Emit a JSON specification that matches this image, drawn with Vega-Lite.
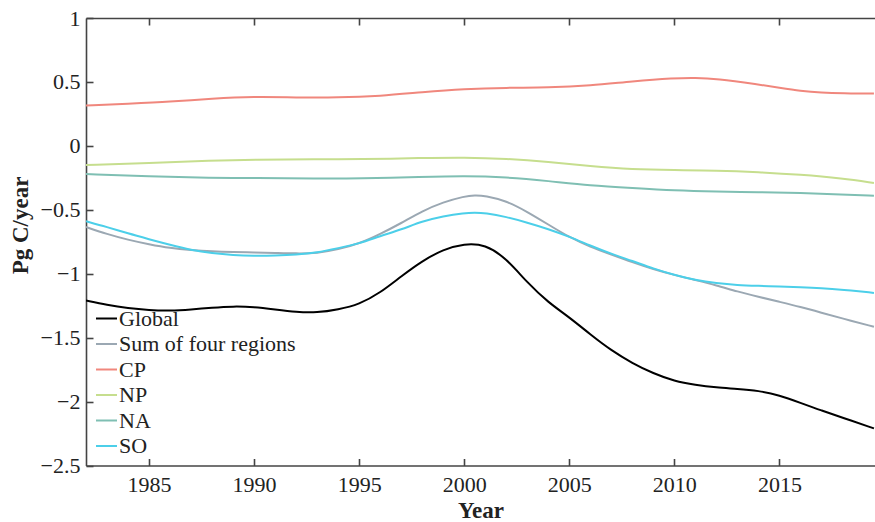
{
  "$schema": "https://vega.github.io/schema/vega-lite/v6.json",
  "width": 789,
  "height": 447.5,
  "autosize": "none",
  "padding": {"left": 86, "top": 18, "right": 0, "bottom": 56.5},
  "background": "white",
  "config": {
    "view": {"stroke": null},
    "font": "Times New Roman, Liberation Serif, serif",
    "axis": {
      "labelFont": "Times New Roman, Liberation Serif, serif",
      "titleFont": "Times New Roman, Liberation Serif, serif",
      "labelFontSize": 22,
      "titleFontSize": 23,
      "titleFontWeight": "bold",
      "labelColor": "#222222",
      "titleColor": "#222222",
      "domainColor": "#444444",
      "domainWidth": 1.6,
      "tickColor": "#444444",
      "tickWidth": 1.6,
      "grid": false
    },
    "legend": {
      "labelFont": "Times New Roman, Liberation Serif, serif",
      "labelFontSize": 22,
      "labelColor": "#222222",
      "labelLimit": 0
    }
  },
  "datasets": {
    "flux": [
      {"series": "Global", "year": 1982, "value": -1.21},
      {"series": "Global", "year": 1983, "value": -1.245},
      {"series": "Global", "year": 1984, "value": -1.27},
      {"series": "Global", "year": 1985, "value": -1.285},
      {"series": "Global", "year": 1986, "value": -1.29},
      {"series": "Global", "year": 1987, "value": -1.28},
      {"series": "Global", "year": 1988, "value": -1.265},
      {"series": "Global", "year": 1989, "value": -1.255},
      {"series": "Global", "year": 1990, "value": -1.26},
      {"series": "Global", "year": 1991, "value": -1.28},
      {"series": "Global", "year": 1992, "value": -1.3},
      {"series": "Global", "year": 1993, "value": -1.305},
      {"series": "Global", "year": 1994, "value": -1.28},
      {"series": "Global", "year": 1995, "value": -1.24},
      {"series": "Global", "year": 1996, "value": -1.15},
      {"series": "Global", "year": 1997, "value": -1.02},
      {"series": "Global", "year": 1998, "value": -0.9},
      {"series": "Global", "year": 1999, "value": -0.81},
      {"series": "Global", "year": 2000, "value": -0.765},
      {"series": "Global", "year": 2001, "value": -0.77},
      {"series": "Global", "year": 2002, "value": -0.88},
      {"series": "Global", "year": 2003, "value": -1.07},
      {"series": "Global", "year": 2004, "value": -1.225},
      {"series": "Global", "year": 2005, "value": -1.34},
      {"series": "Global", "year": 2006, "value": -1.475},
      {"series": "Global", "year": 2007, "value": -1.6},
      {"series": "Global", "year": 2008, "value": -1.7},
      {"series": "Global", "year": 2009, "value": -1.78},
      {"series": "Global", "year": 2010, "value": -1.84},
      {"series": "Global", "year": 2011, "value": -1.87},
      {"series": "Global", "year": 2012, "value": -1.89},
      {"series": "Global", "year": 2013, "value": -1.9},
      {"series": "Global", "year": 2014, "value": -1.915},
      {"series": "Global", "year": 2015, "value": -1.95},
      {"series": "Global", "year": 2016, "value": -2.01},
      {"series": "Global", "year": 2017, "value": -2.07},
      {"series": "Global", "year": 2018, "value": -2.125},
      {"series": "Global", "year": 2019.5, "value": -2.21},

      {"series": "Sum of four regions", "year": 1982, "value": -0.635},
      {"series": "Sum of four regions", "year": 1983, "value": -0.69},
      {"series": "Sum of four regions", "year": 1984, "value": -0.735},
      {"series": "Sum of four regions", "year": 1985, "value": -0.77},
      {"series": "Sum of four regions", "year": 1986, "value": -0.8},
      {"series": "Sum of four regions", "year": 1987, "value": -0.815},
      {"series": "Sum of four regions", "year": 1988, "value": -0.825},
      {"series": "Sum of four regions", "year": 1989, "value": -0.83},
      {"series": "Sum of four regions", "year": 1990, "value": -0.833},
      {"series": "Sum of four regions", "year": 1991, "value": -0.837},
      {"series": "Sum of four regions", "year": 1992, "value": -0.842},
      {"series": "Sum of four regions", "year": 1993, "value": -0.84},
      {"series": "Sum of four regions", "year": 1994, "value": -0.81},
      {"series": "Sum of four regions", "year": 1995, "value": -0.765},
      {"series": "Sum of four regions", "year": 1996, "value": -0.69},
      {"series": "Sum of four regions", "year": 1997, "value": -0.605},
      {"series": "Sum of four regions", "year": 1998, "value": -0.51},
      {"series": "Sum of four regions", "year": 1999, "value": -0.44},
      {"series": "Sum of four regions", "year": 2000, "value": -0.395},
      {"series": "Sum of four regions", "year": 2000.5, "value": -0.385},
      {"series": "Sum of four regions", "year": 2001, "value": -0.39},
      {"series": "Sum of four regions", "year": 2002, "value": -0.43},
      {"series": "Sum of four regions", "year": 2003, "value": -0.515},
      {"series": "Sum of four regions", "year": 2004, "value": -0.615},
      {"series": "Sum of four regions", "year": 2005, "value": -0.715},
      {"series": "Sum of four regions", "year": 2006, "value": -0.79},
      {"series": "Sum of four regions", "year": 2007, "value": -0.85},
      {"series": "Sum of four regions", "year": 2008, "value": -0.91},
      {"series": "Sum of four regions", "year": 2009, "value": -0.965},
      {"series": "Sum of four regions", "year": 2010, "value": -1.01},
      {"series": "Sum of four regions", "year": 2011, "value": -1.05},
      {"series": "Sum of four regions", "year": 2012, "value": -1.09},
      {"series": "Sum of four regions", "year": 2013, "value": -1.14},
      {"series": "Sum of four regions", "year": 2014, "value": -1.18},
      {"series": "Sum of four regions", "year": 2015, "value": -1.22},
      {"series": "Sum of four regions", "year": 2016, "value": -1.26},
      {"series": "Sum of four regions", "year": 2017, "value": -1.305},
      {"series": "Sum of four regions", "year": 2018, "value": -1.35},
      {"series": "Sum of four regions", "year": 2019.5, "value": -1.415},

      {"series": "CP", "year": 1982, "value": 0.315},
      {"series": "CP", "year": 1984, "value": 0.33},
      {"series": "CP", "year": 1986, "value": 0.345},
      {"series": "CP", "year": 1988, "value": 0.37},
      {"series": "CP", "year": 1990, "value": 0.385},
      {"series": "CP", "year": 1992, "value": 0.378},
      {"series": "CP", "year": 1994, "value": 0.377},
      {"series": "CP", "year": 1996, "value": 0.39},
      {"series": "CP", "year": 1998, "value": 0.42},
      {"series": "CP", "year": 2000, "value": 0.445},
      {"series": "CP", "year": 2002, "value": 0.455},
      {"series": "CP", "year": 2004, "value": 0.455},
      {"series": "CP", "year": 2006, "value": 0.47},
      {"series": "CP", "year": 2008, "value": 0.505},
      {"series": "CP", "year": 2010, "value": 0.53},
      {"series": "CP", "year": 2011, "value": 0.533},
      {"series": "CP", "year": 2012, "value": 0.525},
      {"series": "CP", "year": 2014, "value": 0.48},
      {"series": "CP", "year": 2015, "value": 0.455},
      {"series": "CP", "year": 2016, "value": 0.43},
      {"series": "CP", "year": 2017, "value": 0.415},
      {"series": "CP", "year": 2018, "value": 0.41},
      {"series": "CP", "year": 2019.5, "value": 0.41},

      {"series": "NP", "year": 1982, "value": -0.15},
      {"series": "NP", "year": 1985, "value": -0.135},
      {"series": "NP", "year": 1988, "value": -0.115},
      {"series": "NP", "year": 1990, "value": -0.107},
      {"series": "NP", "year": 1993, "value": -0.105},
      {"series": "NP", "year": 1995, "value": -0.105},
      {"series": "NP", "year": 1998, "value": -0.095},
      {"series": "NP", "year": 2000, "value": -0.09},
      {"series": "NP", "year": 2002, "value": -0.1},
      {"series": "NP", "year": 2004, "value": -0.125},
      {"series": "NP", "year": 2006, "value": -0.16},
      {"series": "NP", "year": 2008, "value": -0.185},
      {"series": "NP", "year": 2010, "value": -0.19},
      {"series": "NP", "year": 2012, "value": -0.192},
      {"series": "NP", "year": 2014, "value": -0.205},
      {"series": "NP", "year": 2016, "value": -0.225},
      {"series": "NP", "year": 2018, "value": -0.255},
      {"series": "NP", "year": 2019.5, "value": -0.29},

      {"series": "NA", "year": 1982, "value": -0.22},
      {"series": "NA", "year": 1985, "value": -0.24},
      {"series": "NA", "year": 1988, "value": -0.25},
      {"series": "NA", "year": 1990, "value": -0.252},
      {"series": "NA", "year": 1993, "value": -0.255},
      {"series": "NA", "year": 1995, "value": -0.255},
      {"series": "NA", "year": 1998, "value": -0.243},
      {"series": "NA", "year": 2000, "value": -0.235},
      {"series": "NA", "year": 2002, "value": -0.245},
      {"series": "NA", "year": 2004, "value": -0.275},
      {"series": "NA", "year": 2006, "value": -0.31},
      {"series": "NA", "year": 2008, "value": -0.33},
      {"series": "NA", "year": 2010, "value": -0.35},
      {"series": "NA", "year": 2012, "value": -0.358},
      {"series": "NA", "year": 2014, "value": -0.362},
      {"series": "NA", "year": 2016, "value": -0.368},
      {"series": "NA", "year": 2018, "value": -0.38},
      {"series": "NA", "year": 2019.5, "value": -0.39},

      {"series": "SO", "year": 1982, "value": -0.59},
      {"series": "SO", "year": 1983, "value": -0.635},
      {"series": "SO", "year": 1984, "value": -0.685},
      {"series": "SO", "year": 1985, "value": -0.73},
      {"series": "SO", "year": 1986, "value": -0.775},
      {"series": "SO", "year": 1987, "value": -0.815},
      {"series": "SO", "year": 1988, "value": -0.84},
      {"series": "SO", "year": 1989, "value": -0.855},
      {"series": "SO", "year": 1990, "value": -0.86},
      {"series": "SO", "year": 1991, "value": -0.858},
      {"series": "SO", "year": 1992, "value": -0.852},
      {"series": "SO", "year": 1993, "value": -0.835},
      {"series": "SO", "year": 1994, "value": -0.8},
      {"series": "SO", "year": 1995, "value": -0.765},
      {"series": "SO", "year": 1996, "value": -0.705},
      {"series": "SO", "year": 1997, "value": -0.655},
      {"series": "SO", "year": 1998, "value": -0.59},
      {"series": "SO", "year": 1999, "value": -0.55},
      {"series": "SO", "year": 2000, "value": -0.525},
      {"series": "SO", "year": 2000.5, "value": -0.522},
      {"series": "SO", "year": 2001, "value": -0.525},
      {"series": "SO", "year": 2002, "value": -0.555},
      {"series": "SO", "year": 2003, "value": -0.6},
      {"series": "SO", "year": 2004, "value": -0.65},
      {"series": "SO", "year": 2005, "value": -0.71},
      {"series": "SO", "year": 2006, "value": -0.78},
      {"series": "SO", "year": 2007, "value": -0.845},
      {"series": "SO", "year": 2008, "value": -0.9},
      {"series": "SO", "year": 2009, "value": -0.96},
      {"series": "SO", "year": 2010, "value": -1.01},
      {"series": "SO", "year": 2011, "value": -1.05},
      {"series": "SO", "year": 2012, "value": -1.075},
      {"series": "SO", "year": 2013, "value": -1.09},
      {"series": "SO", "year": 2014, "value": -1.095},
      {"series": "SO", "year": 2015, "value": -1.1},
      {"series": "SO", "year": 2016, "value": -1.105},
      {"series": "SO", "year": 2017, "value": -1.112},
      {"series": "SO", "year": 2018, "value": -1.125},
      {"series": "SO", "year": 2019.5, "value": -1.15}
    ]
  },
  "data": {"name": "flux"},
  "layer": [
    {
      "mark": {"type": "line", "interpolate": "basis", "strokeWidth": 2, "clip": true},
      "encoding": {
        "x": {
          "field": "year",
          "type": "quantitative",
          "scale": {"domain": [1982, 2019.55], "nice": false, "zero": false},
          "axis": {
            "orient": "bottom",
            "title": "Year",
            "values": [1985, 1990, 1995, 2000, 2005, 2010, 2015],
            "format": "d",
            "tickSize": -7,
            "labelPadding": 16,
            "titlePadding": 4
          }
        },
        "y": {
          "field": "value",
          "type": "quantitative",
          "scale": {"domain": [-2.5, 1], "nice": false, "zero": false},
          "axis": {
            "title": "Pg C/year",
            "values": [-2.5, -2, -1.5, -1, -0.5, 0, 0.5, 1],
            "format": "~g",
            "tickSize": -7,
            "labelPadding": 13,
            "titleAngle": 270,
            "titleX": -66,
            "titleY": 207,
            "titleAlign": "center",
            "titleBaseline": "middle"
          }
        },
        "color": {
          "field": "series",
          "type": "nominal",
          "scale": {
            "domain": ["Global", "Sum of four regions", "CP", "NP", "NA", "SO"],
            "range": ["#000000", "#9ba8b3", "#f0877d", "#c6de8e", "#7fbfb3", "#4ccfe9"]
          },
          "legend": {
            "title": null,
            "orient": "none",
            "legendX": 9,
            "legendY": 289,
            "padding": 0,
            "symbolType": "stroke",
            "symbolSize": 441,
            "symbolStrokeWidth": 2,
            "labelOffset": 1,
            "rowPadding": 2.5,
            "columns": 1
          }
        },
        "order": {"field": "year", "type": "quantitative"}
      }
    },
    {
      "mark": {"type": "rule", "opacity": 0},
      "encoding": {
        "x": {
          "field": "year",
          "aggregate": "min",
          "type": "quantitative",
          "axis": {
            "orient": "top",
            "title": null,
            "labels": false,
            "values": [1985, 1990, 1995, 2000, 2005, 2010, 2015],
            "tickSize": -7
          }
        }
      }
    }
  ]
}
